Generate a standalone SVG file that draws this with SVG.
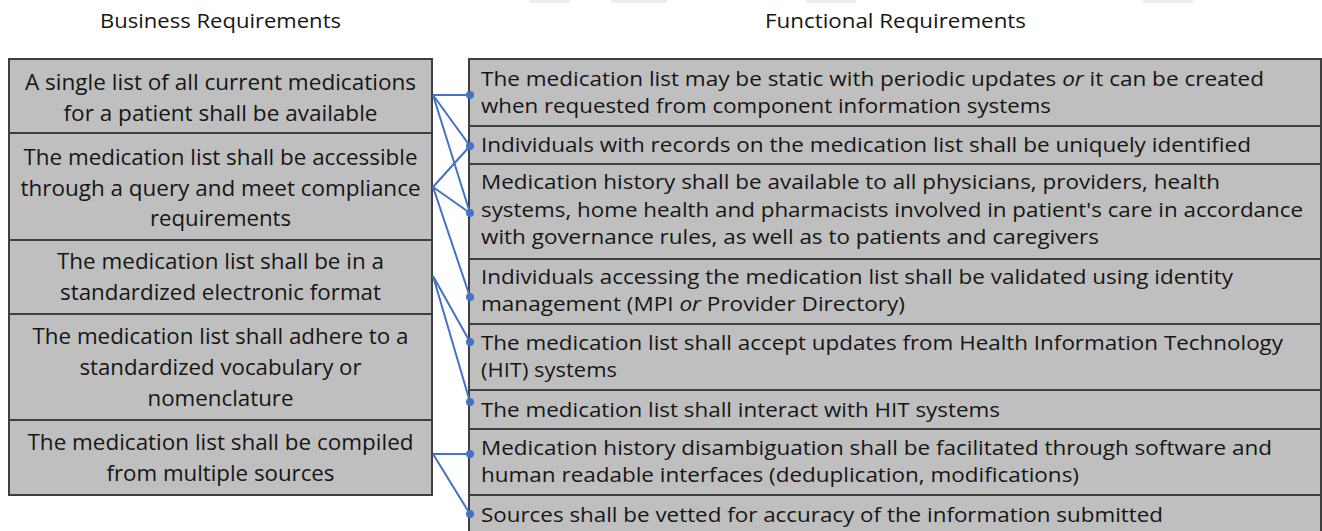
<svg xmlns="http://www.w3.org/2000/svg" width="1322" height="531" viewBox="0 0 1322 531">
<style>
.box{fill:#bfbfbf;stroke:#3f3f3f;stroke-width:2}
.t{font-family:"Open Sans","Noto Sans",sans-serif;font-size:22px;fill:#161616}
.r{font-size:19.5px}
.h{font-family:"Open Sans","Noto Sans",sans-serif;font-size:20px;fill:#161616;text-anchor:middle}
.c{text-anchor:middle}
.ln{stroke:#4472c4;stroke-width:2;fill:none}
.dot{fill:#4472c4}
.blob{fill:#ededed}
</style>
<g id="artifacts">
<rect class="blob" x="530" y="0" width="40" height="3"/>
<rect class="blob" x="611" y="0" width="56" height="3"/>
<rect class="blob" x="806" y="0" width="50" height="3"/>
<rect class="blob" x="1143" y="0" width="50" height="3"/>
</g>
<g id="headers">
<text class="h" x="220.5" y="28" textLength="241" lengthAdjust="spacingAndGlyphs">Business Requirements</text>
<text class="h" x="895.5" y="28" textLength="261" lengthAdjust="spacingAndGlyphs">Functional Requirements</text>
</g>
<g id="b1"><rect class="box" x="9" y="59" width="423" height="74"/>
<text class="t c" x="220.5" y="90" textLength="391" lengthAdjust="spacingAndGlyphs">A single list of all current medications</text>
<text class="t c" x="220.5" y="121" textLength="314" lengthAdjust="spacingAndGlyphs">for a patient shall be available</text></g>
<g id="b2"><rect class="box" x="9" y="133" width="423" height="107"/>
<text class="t c" x="220.5" y="165" textLength="394" lengthAdjust="spacingAndGlyphs">The medication list shall be accessible</text>
<text class="t c" x="220.5" y="196" textLength="400" lengthAdjust="spacingAndGlyphs">through a query and meet compliance</text>
<text class="t c" x="220.5" y="226" textLength="141" lengthAdjust="spacingAndGlyphs">requirements</text></g>
<g id="b3"><rect class="box" x="9" y="240" width="423" height="74"/>
<text class="t c" x="220.5" y="269" textLength="327" lengthAdjust="spacingAndGlyphs">The medication list shall be in a</text>
<text class="t c" x="220.5" y="300" textLength="321" lengthAdjust="spacingAndGlyphs">standardized electronic format</text></g>
<g id="b4"><rect class="box" x="9" y="314" width="423" height="106"/>
<text class="t c" x="220.5" y="344" textLength="376" lengthAdjust="spacingAndGlyphs">The medication list shall adhere to a</text>
<text class="t c" x="220.5" y="375" textLength="282" lengthAdjust="spacingAndGlyphs">standardized vocabulary or</text>
<text class="t c" x="220.5" y="406" textLength="146" lengthAdjust="spacingAndGlyphs">nomenclature</text></g>
<g id="b5"><rect class="box" x="9" y="420" width="423" height="75"/>
<text class="t c" x="220.5" y="450" textLength="386" lengthAdjust="spacingAndGlyphs">The medication list shall be compiled</text>
<text class="t c" x="220.5" y="481" textLength="228" lengthAdjust="spacingAndGlyphs">from multiple sources</text></g>
<g id="f1"><rect class="box" x="469" y="59" width="852" height="67"/>
<text class="t r" x="481" y="86" textLength="783" lengthAdjust="spacingAndGlyphs">The medication list may be static with periodic updates <tspan font-style="italic">or</tspan> it can be created</text>
<text class="t r" x="481" y="113" textLength="570" lengthAdjust="spacingAndGlyphs">when requested from component information systems</text></g>
<g id="f2"><rect class="box" x="469" y="126" width="852" height="38"/>
<text class="t r" x="481" y="152" textLength="770" lengthAdjust="spacingAndGlyphs">Individuals with records on the medication list shall be uniquely identified</text></g>
<g id="f3"><rect class="box" x="469" y="164" width="852" height="95"/>
<text class="t r" x="481" y="189" textLength="739" lengthAdjust="spacingAndGlyphs">Medication history shall be available to all physicians, providers, health</text>
<text class="t r" x="481" y="217" textLength="822" lengthAdjust="spacingAndGlyphs">systems, home health and pharmacists involved in patient's care in accordance</text>
<text class="t r" x="481" y="244" textLength="618" lengthAdjust="spacingAndGlyphs">with governance rules, as well as to patients and caregivers</text></g>
<g id="f4"><rect class="box" x="469" y="259" width="852" height="65"/>
<text class="t r" x="481" y="284" textLength="752" lengthAdjust="spacingAndGlyphs">Individuals accessing the medication list shall be validated using identity</text>
<text class="t r" x="481" y="311" textLength="424" lengthAdjust="spacingAndGlyphs">management (MPI <tspan font-style="italic">or</tspan> Provider Directory)</text></g>
<g id="f5"><rect class="box" x="469" y="324" width="852" height="66"/>
<text class="t r" x="481" y="350" textLength="802" lengthAdjust="spacingAndGlyphs">The medication list shall accept updates from Health Information Technology</text>
<text class="t r" x="481" y="377" textLength="136" lengthAdjust="spacingAndGlyphs">(HIT) systems</text></g>
<g id="f6"><rect class="box" x="469" y="390" width="852" height="39"/>
<text class="t r" x="481" y="417" textLength="519" lengthAdjust="spacingAndGlyphs">The medication list shall interact with HIT systems</text></g>
<g id="f7"><rect class="box" x="469" y="429" width="852" height="66"/>
<text class="t r" x="481" y="455" textLength="791" lengthAdjust="spacingAndGlyphs">Medication history disambiguation shall be facilitated through software and</text>
<text class="t r" x="481" y="482" textLength="598" lengthAdjust="spacingAndGlyphs">human readable interfaces (deduplication, modifications)</text></g>
<g id="f8"><rect class="box" x="469" y="495" width="852" height="50"/>
<text class="t r" x="481" y="522" textLength="682" lengthAdjust="spacingAndGlyphs">Sources shall be vetted for accuracy of the information submitted</text></g>
<g id="connectors">
<path class="ln" d="M433 95 L470 95 M433 95 L470 146 M433 95 L470 213 M433 187 L470 146 M433 187 L470 213 M433 187 L470 297 M433 276 L470 342 M433 276 L470 402 M433 454 L470 454 M433 454 L470 514"/>
<circle class="dot" cx="470" cy="95" r="4"/>
<circle class="dot" cx="470" cy="146" r="4"/>
<circle class="dot" cx="470" cy="213" r="4"/>
<circle class="dot" cx="470" cy="297" r="4"/>
<circle class="dot" cx="470" cy="342" r="4"/>
<circle class="dot" cx="470" cy="402" r="4"/>
<circle class="dot" cx="470" cy="454" r="4"/>
<circle class="dot" cx="470" cy="514" r="4"/>
</g>
</svg>
